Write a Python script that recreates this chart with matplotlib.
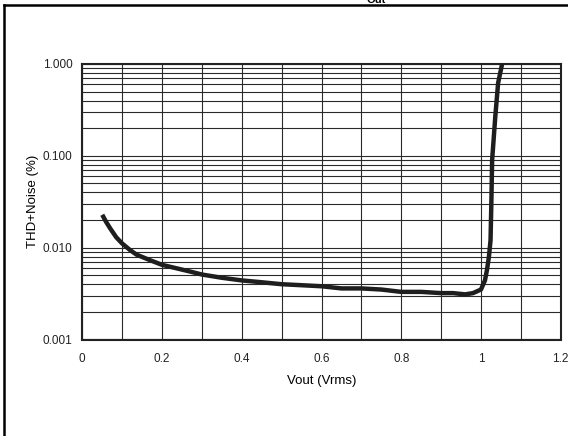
import numpy as np
import matplotlib.pyplot as plt
from matplotlib.lines import Line2D
from matplotlib.ticker import FixedLocator, LogLocator, NullFormatter

plt.rcParams['font.family'] = ['Liberation Sans', 'DejaVu Sans']

# THD+N vs output voltage
vout = [0.05, 0.06, 0.07, 0.085, 0.10, 0.12, 0.136, 0.17, 0.20, 0.27, 0.30,
        0.35, 0.40, 0.45, 0.50, 0.55, 0.60, 0.65, 0.70, 0.75, 0.80, 0.85,
        0.90, 0.93, 0.96, 0.98, 1.00, 1.010, 1.015, 1.020, 1.024, 1.026,
        1.028, 1.036, 1.043, 1.053]
thd = [0.0228, 0.019, 0.0162, 0.013, 0.0111, 0.0094, 0.0084, 0.0073, 0.0065,
       0.0055, 0.0051, 0.0047, 0.0044, 0.0042, 0.0040, 0.0039, 0.0038, 0.0036,
       0.0036, 0.0035, 0.0033, 0.0033, 0.0032, 0.0032, 0.0031, 0.0032, 0.0035,
       0.0044, 0.0057, 0.008, 0.012, 0.03, 0.09, 0.27, 0.62, 1.0]

xticks = [0, 0.2, 0.4, 0.6, 0.8, 1.0, 1.2]
xlabels = ['0', '0.2', '0.4', '0.6', '0.8', '1', '1.2']
yticks = [0.001, 0.01, 0.1, 1.0]
ylabels = ['0.001', '0.010', '0.100', '1.000']

fig = plt.figure(figsize=(5.68, 4.36), dpi=100)
ax = fig.add_axes([82.3 / 568, 1 - 339.5 / 436, (560.7 - 82.3) / 568, (339.5 - 64) / 436])

ax.semilogy(vout, thd, color='#1e1e1e', lw=3.2, solid_capstyle='butt', zorder=3)
ax.set_xlim(0, 1.2)
ax.set_ylim(0.001, 1.0)

ax.set_xticks(xticks)
ax.set_xticklabels(xlabels)
ax.xaxis.set_minor_locator(FixedLocator(np.arange(0.1, 1.2, 0.2)))
ax.set_yticks(yticks)
ax.set_yticklabels(ylabels)
ax.yaxis.set_minor_locator(LogLocator(base=10, subs=np.arange(2, 10)))
ax.yaxis.set_minor_formatter(NullFormatter())

ax.grid(which='both', color='#2a2a2a', lw=0.8)
ax.tick_params(which='both', length=0, labelsize=8.5, pad=7, labelcolor='#222222')
ax.tick_params(axis='x', pad=10)
for s in ax.spines.values():
    s.set_linewidth(1.5)
    s.set_color('#222222')

ax.set_xlabel('Vout (Vrms)', fontsize=9.5, labelpad=7)
ax.set_ylabel('THD+Noise (%)', fontsize=9.5, labelpad=3)

# page frame and clipped heading
fig.add_artist(Line2D([4 / 568, 4 / 568], [0, 1 - 5 / 436], color='black', lw=1.8))
fig.add_artist(Line2D([4 / 568, 1], [1 - 5 / 436, 1 - 5 / 436], color='black', lw=1.8))
fig.text(376 / 568, 1 - 3 / 436, 'Out', fontsize=8, fontweight='bold',
         ha='center', va='baseline')

fig.savefig('out.png', dpi=100)
